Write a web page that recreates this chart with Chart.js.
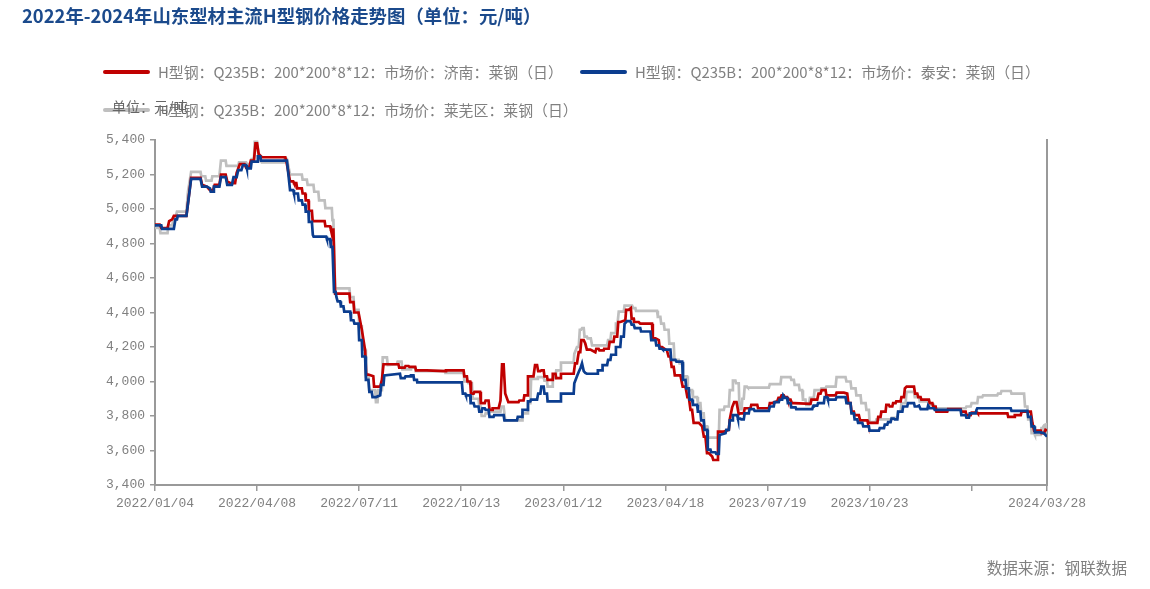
<!DOCTYPE html>
<html lang="zh-CN">
<head>
<meta charset="utf-8">
<title>2022年-2024年山东型材主流H型钢价格走势图</title>
<script src="https://cdn.jsdelivr.net/npm/chart.js@4.4.1/dist/chart.umd.min.js"></script>
<style>
  html, body { margin: 0; padding: 0; background: #fff; }
  #wrap { position: relative; width: 1150px; height: 589px; overflow: hidden;
          font-family: "Noto Sans CJK SC", "Noto Sans", sans-serif; }
  #chart { position: absolute; left: 0; top: 0; }
  .title { position: absolute; left: 22px; top: 3px; line-height: 24px; font-size: 18.4px;
           font-weight: bold; color: #1B4A8C; white-space: nowrap; }
  .lg { position: absolute; display: flex; align-items: center; white-space: nowrap;
        font-size: 14.9px; line-height: 20px; color: #808080; }
  .lg i { display: inline-block; width: 47px; height: 4px; border-radius: 2px; margin-right: 8px; }
  .unit { position: absolute; left: 112px; top: 96px; line-height: 20px; font-size: 14px; color: #666; }
  .src { position: absolute; right: 23px; top: 557px; line-height: 20px; font-size: 15.6px; color: #808080; }
</style>
</head>
<body>
<div id="wrap">
  <canvas id="chart" width="1150" height="589"></canvas>
  <div class="title">2022年-2024年山东型材主流H型钢价格走势图（单位：元/吨）</div>
  <div id="legend"></div>
  <div class="unit">单位：元/吨</div>
  <div class="src">数据来源：钢联数据</div>
</div>
<script>
// 序列名称和颜色
const names = [
  "H型钢：Q235B：200*200*8*12：市场价：济南：莱钢（日）",
  "H型钢：Q235B：200*200*8*12：市场价：泰安：莱钢（日）",
  "H型钢：Q235B：200*200*8*12：市场价：莱芜区：莱钢（日）"
];
const colors = ["#C00000", "#0B3D8F", "#BFBFBF"];

// x轴：交易日序号和日期标签
const tickIdx = [0, 65, 130, 195, 260, 325, 390, 455, 520, 568];
const tickLabels = ["2022/01/04", "2022/04/08", "2022/07/11", "2022/10/13", "2023/01/12",
  "2023/04/18", "2023/07/19", "2023/10/23", "", "2024/03/28"];

// [交易日序号, 价格]
const jinan = [[0,4910],[3,4910],[4,4890],[8,4890],[9,4930],[11,4940],[12,4960],[20,4960],[23,5180],[29,5180],[30,5140],[33,5130],[35,5110],[37,5110],[38,5140],[41,5140],[42,5200],[45,5200],[46,5160],[48,5150],[51,5150],[52,5210],[54,5260],[57,5260],[58,5240],[60,5240],[61,5280],[63,5280],[64,5380],[65,5380],[66,5320],[68,5300],[83,5300],[84,5260],[86,5160],[88,5160],[88.5,5150],[90,5150],[90.5,5120],[93.5,5120],[94,5090],[95.6,5090],[96,5050],[97.7,5050],[98,4990],[99.9,4990],[100.4,4930],[108,4930],[108.5,4900],[111.5,4900],[112,4880],[113.6,4880],[114.7,4510],[123.8,4510],[124.3,4460],[126.4,4460],[126.9,4400],[129.6,4400],[131.7,4300],[133.8,4180],[134.5,4040],[135.9,4040],[139,4030],[139.5,3970],[143.4,3970],[144.5,4010],[145.5,4100],[155,4100],[155.5,4080],[159,4080],[159.5,4090],[161.5,4090],[162,4085],[165.7,4085],[166.2,4065],[173,4065],[184.8,4060],[185.3,4065],[196.5,4065],[197,4030],[198.6,4030],[199,4000],[200.7,4000],[201.2,3930],[202.9,3930],[203.4,3940],[207,3940],[207.5,3875],[210,3875],[210.5,3890],[212.4,3890],[213,3835],[214.6,3835],[215,3845],[218.8,3845],[220,3890],[221,4100],[222,4100],[223,3930],[225,3880],[231.5,3880],[232,3890],[234.7,3890],[235.2,3920],[236.9,3920],[237.5,4030],[241,4030],[242,4095],[243.3,4095],[244,4060],[245.4,4060],[246,4065],[247.5,4065],[248,4030],[249.6,4030],[250,4010],[252.8,4010],[253.3,4045],[255,4045],[255.5,4020],[258,4020],[258.5,4045],[266.6,4045],[267.5,4105],[268.7,4105],[269.8,4170],[270.8,4170],[271.5,4240],[273,4240],[274,4220],[275,4185],[277.2,4185],[280.4,4170],[281,4190],[282.5,4190],[283,4180],[285.7,4180],[286,4190],[288.9,4190],[289.5,4230],[292,4230],[292.5,4260],[294.3,4260],[295,4345],[296.3,4345],[299.5,4355],[300,4415],[301.6,4415],[303,4425],[303.5,4365],[304.8,4365],[305,4345],[308,4345],[309,4335],[316.5,4335],[317,4250],[318.7,4250],[320.8,4240],[321.3,4200],[322.9,4200],[326,4180],[327,4145],[328.2,4145],[329,4085],[330.3,4085],[331,4035],[334.6,4035],[336,3970],[337.8,3970],[339,3910],[339.9,3910],[341,3835],[342,3835],[343,3760],[346.3,3760],[348.4,3740],[349.5,3680],[350.5,3680],[351.5,3585],[352.6,3585],[354.8,3565],[355.5,3545],[358,3545],[358.5,3710],[362.2,3710],[365.4,3720],[366,3780],[367.5,3850],[368.8,3880],[370.3,3880],[371.7,3810],[372.8,3815],[374.9,3815],[375.5,3845],[379.2,3845],[379.7,3865],[383.5,3865],[384,3845],[390.9,3845],[391.5,3875],[393,3875],[396.2,3885],[397,3905],[398.3,3905],[399,3920],[400.4,3920],[401,3910],[402.5,3910],[403,3895],[404.7,3895],[405.5,3875],[406.8,3875],[417.4,3870],[418,3895],[421.7,3895],[422.5,3930],[423.8,3930],[424.5,3950],[427,3950],[427.5,3920],[433.4,3920],[434,3935],[438.7,3935],[440.8,3930],[441.5,3875],[442.9,3875],[443.5,3825],[445,3825],[445.5,3805],[448.2,3805],[449,3775],[453.6,3775],[454,3760],[460,3760],[460.5,3795],[462,3795],[462.5,3825],[465.2,3825],[465.7,3865],[467.3,3865],[467.8,3855],[469.5,3855],[470,3875],[471.6,3875],[472,3885],[474.8,3885],[475.3,3910],[476.9,3910],[477.5,3960],[478.6,3970],[483.3,3970],[484,3930],[485.4,3930],[486,3910],[487.5,3910],[488,3895],[492.8,3895],[493.3,3875],[495,3875],[495.5,3855],[497.1,3855],[497.6,3825],[504.5,3825],[505,3840],[513,3840],[513.5,3825],[516.2,3825],[516.7,3805],[519.4,3805],[520,3820],[523.6,3820],[524,3815],[542.8,3815],[543.3,3795],[547,3795],[547.5,3805],[551.3,3805],[551.8,3825],[557.7,3825],[558.7,3760],[559.8,3715],[564,3715],[564.5,3700],[566.1,3700],[567,3720],[568,3715]];

const taian = [[0,4905],[4,4905],[4.5,4885],[12,4885],[13,4940],[14,4940],[14.5,4960],[20,4960],[23,5175],[29,5175],[30,5130],[33,5130],[35,5120],[35.5,5100],[37,5100],[37.5,5130],[41,5130],[42,5185],[45,5185],[46,5140],[49,5140],[50,5185],[52,5185],[53,5225],[55,5225],[56,5255],[58,5255],[58.5,5235],[61,5235],[61.5,5275],[65,5275],[65.5,5305],[67,5305],[67.5,5280],[84,5280],[86,5110],[88,5110],[88.5,5090],[91,5090],[91.5,5050],[93.5,5050],[94,5025],[95.6,5025],[96,4985],[97.7,4985],[98,4925],[99.9,4925],[100.5,4850],[101,4840],[109,4840],[109.5,4825],[111.5,4825],[112,4780],[113,4780],[114,4520],[115,4520],[115.5,4490],[115.8,4490],[116.3,4465],[117.9,4465],[118.4,4435],[120,4435],[120.5,4405],[124.3,4405],[124.8,4355],[126.4,4355],[127,4335],[129.6,4335],[130,4240],[131.7,4240],[132,4145],[133.8,4145],[134.3,4010],[135.9,4010],[136.5,3940],[138,3940],[138.5,3910],[140.8,3910],[143.4,3920],[144,3980],[145.5,3980],[146,4035],[156,4045],[156.5,4020],[159,4020],[159.5,4030],[162.5,4030],[163,4035],[164.6,4035],[165,4010],[166.8,4010],[167,3995],[195.4,3995],[196,3930],[197.6,3930],[198,3920],[200.7,3920],[201,3875],[202.9,3875],[203.5,3855],[206,3855],[206.5,3825],[208,3825],[208.5,3845],[210,3845],[210.5,3835],[212.4,3835],[213,3795],[215.6,3795],[216,3805],[222,3805],[222.5,3775],[230.5,3775],[231,3795],[233.7,3795],[234,3835],[236.9,3835],[237.5,3885],[239,3885],[239.5,3895],[243.3,3895],[244,3930],[245.4,3930],[246,3970],[247.5,3970],[248,3930],[249.6,3930],[250,3885],[258,3885],[258.5,3930],[266.6,3930],[267,3990],[268.7,4030],[269.8,4055],[271,4080],[271.9,4105],[273,4060],[274,4050],[275,4045],[281.5,4045],[282,4065],[284.7,4065],[285,4095],[287.9,4095],[288.5,4125],[290,4125],[290.5,4155],[293,4155],[293.5,4200],[296.3,4200],[296.8,4260],[298.5,4260],[299,4335],[300.6,4350],[302.7,4350],[303.5,4330],[304.8,4330],[305.5,4310],[309,4310],[309.5,4290],[315.5,4290],[316,4240],[318.7,4240],[319.2,4210],[320.8,4210],[321.3,4190],[322.9,4190],[323.4,4185],[328.2,4185],[328.7,4125],[331.4,4125],[332,4115],[335.7,4115],[336.2,4010],[337.8,4010],[338.3,3960],[339.9,3960],[340.4,3895],[342,3895],[342.5,3865],[345.2,3865],[345.7,3825],[347.3,3825],[347.8,3775],[349.4,3775],[349.9,3720],[351.6,3720],[352,3605],[353.7,3605],[354.2,3590],[356.9,3590],[357.4,3580],[359,3580],[359.5,3690],[363.3,3700],[363.8,3720],[365.4,3720],[366,3775],[367.5,3775],[368,3805],[370.7,3805],[371.2,3785],[372.8,3785],[373.3,3780],[374.9,3780],[375.5,3815],[378.1,3815],[378.6,3840],[381.3,3840],[381.8,3830],[390.9,3830],[391.5,3855],[394,3855],[394.5,3880],[397.2,3880],[397.7,3895],[399.4,3895],[400,3920],[400.4,3920],[401,3905],[402.5,3905],[403,3875],[404.7,3875],[405.2,3850],[407.9,3850],[408.3,3840],[418.5,3840],[419,3855],[419.5,3860],[421.7,3860],[422.2,3875],[425.9,3875],[426.4,3910],[428,3910],[428.5,3895],[433.4,3895],[434,3910],[439.7,3910],[440.3,3875],[442.9,3875],[443.5,3815],[445,3815],[445.5,3780],[447.2,3780],[447.7,3760],[450.4,3760],[451,3740],[454.6,3740],[455,3715],[461,3715],[461.5,3730],[464.2,3730],[464.7,3750],[466.3,3750],[466.8,3765],[468.4,3765],[469,3785],[470.5,3785],[471,3780],[472.7,3780],[473.2,3825],[475.9,3825],[476.4,3855],[479,3855],[479.5,3875],[483.3,3875],[483.8,3855],[485.4,3855],[486.5,3860],[487.5,3840],[491.8,3840],[492.3,3860],[492.8,3860],[493.3,3845],[496,3845],[496.5,3835],[513,3835],[513.5,3805],[516.2,3805],[516.7,3790],[518.3,3790],[518.8,3815],[522.6,3815],[523.1,3835],[523.6,3845],[544.9,3845],[545.4,3830],[555.5,3830],[556,3795],[557.7,3795],[558.2,3740],[559.8,3740],[560.3,3705],[564,3705],[566.1,3700],[568,3680]];

const laiwu = [[0,4890],[3,4890],[3.5,4860],[8,4860],[8.5,4905],[11,4905],[11.5,4930],[13,4950],[14,4985],[20,4985],[21,5100],[23,5215],[29,5215],[29.5,5190],[32,5190],[32.5,5165],[36,5165],[36.5,5190],[41,5190],[42,5280],[45,5280],[45.5,5250],[53,5250],[53.5,5270],[58,5270],[58.5,5260],[61,5260],[61.5,5290],[63,5290],[63.5,5390],[65,5390],[66,5300],[68,5270],[82,5270],[82.5,5290],[84,5290],[86,5200],[93.5,5200],[94,5170],[96.7,5170],[97.2,5140],[100.9,5140],[101.4,5100],[104,5100],[104.5,5050],[108,5050],[108.5,5005],[112.6,5005],[113,4935],[113.6,4935],[114.7,4540],[123.8,4540],[124.3,4490],[126.4,4490],[127,4415],[129.6,4415],[130,4320],[131.7,4320],[132.2,4185],[133.8,4185],[134.3,4030],[135.9,4030],[136.4,3950],[140.2,3950],[140.7,3880],[141.7,3880],[142.2,3950],[144.5,3950],[145,4140],[147.7,4140],[148.2,4095],[154,4100],[154.5,4115],[157,4115],[157.5,4070],[162.5,4070],[163,4080],[165.7,4080],[166,4060],[184.8,4060],[185,4050],[196.5,4050],[197,4000],[199,4000],[199.5,3990],[201.8,3990],[202.3,3900],[206,3900],[206.5,3855],[207.5,3855],[208,3800],[210,3800],[210.5,3815],[212.4,3815],[213,3825],[220,3825],[220.5,3855],[222,3855],[223,3775],[233.7,3775],[234,3815],[236.9,3815],[237.5,3875],[239,3875],[239.5,4015],[243.3,4015],[243.8,4025],[247.5,4025],[248,4005],[249.6,4005],[250,3970],[252.8,3970],[253.3,4020],[255,4020],[255.5,4065],[258,4065],[258.5,4110],[266.6,4110],[267,4160],[268.7,4200],[269.8,4200],[270.5,4300],[271.3,4300],[272,4310],[273,4310],[273.5,4260],[275,4260],[275.5,4250],[277.5,4250],[278.3,4210],[287.9,4210],[288.5,4240],[290,4240],[290.5,4280],[293,4280],[293.5,4335],[294.5,4335],[295.3,4405],[298.5,4405],[299,4440],[303.8,4440],[304.5,4425],[305.9,4425],[306.3,4410],[319.7,4410],[320.2,4375],[321.8,4375],[322.3,4335],[324,4335],[324.5,4300],[327,4300],[327.5,4220],[330.3,4220],[330.8,4125],[333.5,4125],[334,4105],[335.7,4105],[336.2,4030],[338.8,4030],[339.3,3950],[342,3950],[342.5,3910],[345.2,3910],[345.7,3875],[347.3,3875],[347.8,3815],[349.4,3815],[349.9,3740],[351.6,3740],[352,3675],[359,3675],[359.5,3835],[362.2,3835],[362.7,3855],[365.4,3855],[366,3950],[367.5,3950],[368,4005],[369.6,4005],[370,3990],[371.7,3990],[372.2,3840],[373.5,3840],[374,3900],[374.9,3900],[375.5,3970],[377,3970],[377.5,3965],[390.9,3965],[391.5,3985],[398.3,3985],[398.8,4025],[404.7,4025],[405.2,4010],[406.8,4010],[407.3,3980],[410,3980],[410.5,3950],[412.1,3950],[412.6,3895],[414.2,3895],[414.7,3865],[416.4,3865],[417,3905],[419.5,3905],[420,3950],[423.8,3950],[424.3,3960],[427,3960],[427.5,3970],[433.4,3970],[434,4025],[439.7,4025],[440.3,4000],[442.9,4000],[443.4,3960],[446.1,3960],[446.6,3920],[449.3,3920],[449.8,3875],[452.5,3875],[453,3835],[454.6,3835],[455,3765],[458.9,3765],[459.4,3780],[468.4,3780],[469,3790],[472.7,3790],[473.2,3825],[474.8,3825],[475.3,3875],[478,3875],[478.5,3940],[483.3,3940],[483.8,3910],[486.5,3910],[487,3885],[492.8,3885],[493.3,3865],[496,3865],[496.5,3845],[516.2,3845],[516.7,3855],[519.4,3855],[520,3875],[523.6,3875],[524.1,3910],[526.8,3910],[527.3,3920],[536.3,3920],[536.8,3930],[538.5,3930],[539,3945],[544.9,3945],[545.4,3930],[553.4,3930],[554,3855],[555.5,3855],[556,3780],[557.7,3780],[558.2,3700],[559.8,3700],[560.3,3690],[564,3690],[564.5,3730],[568,3730]];

const series = [jinan, taian, laiwu];

// 图例
const legendBox = document.getElementById("legend");
const legendPos = [[103, 62], [580, 62], [103, 100]];
names.forEach((n, i) => {
  const d = document.createElement("div");
  d.className = "lg";
  d.style.left = legendPos[i][0] + "px";
  d.style.top = legendPos[i][1] + "px";
  d.innerHTML = '<i style="background:' + colors[i] + '"></i>' + n;
  legendBox.appendChild(d);
});

const tickFont = { family: "Liberation Mono", size: 13 };

new Chart(document.getElementById("chart"), {
  type: "line",
  data: {
    datasets: series.map((s, i) => ({
      label: names[i],
      data: s.map(p => ({ x: p[0], y: p[1] })),
      borderColor: colors[i],
      backgroundColor: colors[i],
      borderWidth: 2.7,
      tension: 0,
      pointRadius: ctx => (i === 2 && ctx.dataIndex === s.length - 1 ? 4 : 0),
      order: [2, 1, 3][i]
    }))
  },
  options: {
    responsive: false,
    animation: false,
    layout: { padding: { top: 140, right: 103, bottom: 74, left: 0 } },
    plugins: { legend: { display: false }, tooltip: { enabled: false } },
    scales: {
      x: {
        type: "linear",
        min: 0,
        max: 568,
        afterBuildTicks: s => { s.ticks = tickIdx.map(v => ({ value: v })); },
        afterFit: s => { s.height = 30; },
        ticks: {
          autoSkip: false, maxRotation: 0, padding: 5, color: "#808080", font: tickFont,
          callback: v => tickLabels[tickIdx.indexOf(v)] ?? ""
        },
        grid: { drawOnChartArea: false, tickLength: 6, color: "#999", lineWidth: 1.5 },
        border: { color: "#999", width: 2 }
      },
      y: {
        min: 3400,
        max: 5400,
        afterFit: s => { s.width = 155; },
        ticks: {
          stepSize: 200, padding: 5, color: "#808080", font: tickFont,
          callback: v => v.toLocaleString("en-US")
        },
        grid: { drawOnChartArea: false, tickLength: 5, color: "#999", lineWidth: 1.5 },
        border: { color: "#999", width: 2 }
      },
      y2: {
        position: "right",
        min: 3400,
        max: 5400,
        afterFit: s => { s.width = 0; },
        ticks: { display: false },
        grid: { display: false },
        border: { color: "#999", width: 2 }
      }
    }
  }
});
</script>
</body>
</html>
